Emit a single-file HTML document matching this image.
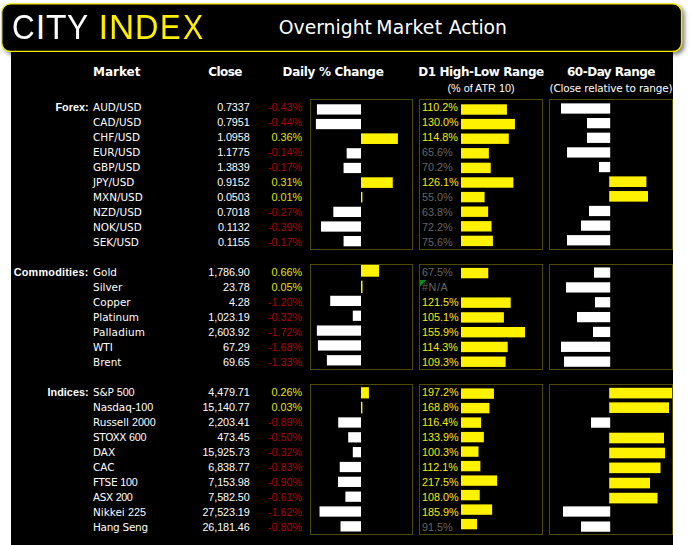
<!DOCTYPE html>
<html lang="en"><head><meta charset="utf-8"><title>Overnight Market Action</title>
<style>
html,body{margin:0;padding:0;}
body{width:691px;height:545px;background:#fff;position:relative;overflow:hidden;font-family:"Liberation Sans","DejaVu Sans",sans-serif;}
.panel{position:absolute;left:11px;top:40px;width:662px;height:505px;background:#000;}
.t{position:absolute;white-space:nowrap;line-height:15px;height:15px;font-size:10.8px;color:#fff;}
.nm{font-family:"DejaVu Sans","Liberation Sans",sans-serif;font-size:10.45px;}
.nm i{font-family:"Liberation Sans",sans-serif;font-size:10.8px;font-style:normal;}
.r{text-align:right;}
.c{text-align:center;}
.b{font-weight:bold;}
.h{font-family:"DejaVu Sans","Liberation Sans",sans-serif;font-size:12px;font-weight:bold;}
.neg{color:#b20000;}
.pos{color:#e6e000;}
.gy{color:#666;}
.yl{color:#f4ec00;}
.box{position:absolute;box-sizing:border-box;border:1px solid #4f4a00;}
rect.w{fill:#fff;}
rect.y{fill:#fff200;}
.logo{position:absolute;left:0;top:7.9px;height:38px;width:220px;font-size:34.3px;line-height:38px;color:#fff;white-space:nowrap;}
.logo span{display:inline-block;transform-origin:0 0;text-align:left;}
.logo .y{color:#ffee00;background:none;}
.title{position:absolute;left:278.75px;top:16px;width:300px;height:24px;font-family:"DejaVu Sans","Liberation Sans",sans-serif;font-size:18.8px;line-height:24px;color:#fff;white-space:nowrap;}

</style></head><body>
<div class="panel"></div>
<svg class="bsvg" width="691" height="70" viewBox="0 0 691 70" style="position:absolute;left:0;top:0">
<defs><filter id="sh" x="-5%" y="-30%" width="110%" height="170%"><feGaussianBlur stdDeviation="2.2"/></filter></defs>
<rect x="3.6" y="5.8" width="681.0" height="48.6" rx="9" fill="#000" fill-opacity="0.5" filter="url(#sh)"/>
<rect x="1.7" y="3.9" width="679.9" height="47.5" rx="8.6" fill="#000" stroke="#f5ec00" stroke-width="1.4"/>
</svg>
<div class="logo"><span style="margin-left:11.95px;width:23.88px;transform-origin:0 19.3px;transform:scale(0.9161,1.035)">C</span><span style="width:10.36px;transform:scaleX(1.0000)">I</span><span style="width:20.96px;transform:scaleX(0.9797)">T</span><span style="width:21.76px;transform:scaleX(0.9266)">Y</span> <span class=y style="width:10.45px;transform:scaleX(1.0000)">I</span><span class=y style="width:26.50px;transform:scaleX(1.0177)">N</span><span class=y style="width:24.93px;transform:scaleX(0.9451)">D</span><span class=y style="width:22.44px;transform:scaleX(0.8983)">E</span><span class=y style="width:30.00px;transform:scaleX(0.8838)">X</span></div>
<div class="title">Overnight <span style="margin-left:-1.68px;letter-spacing:0.25px">Market</span> <span style="margin-left:0.52px;letter-spacing:-0.15px">Action</span></div>

<div class="t h" style="left:93px;top:64.9px;width:60px;">Market</div>
<div class="t h c" style="left:195px;top:64.9px;width:60px;letter-spacing:-0.55px">Close</div>
<div class="t h c" style="left:273px;top:64.9px;width:120px;letter-spacing:-0.3px">Daily % Change</div>
<div class="t h c" style="left:411px;top:64.9px;width:140px;letter-spacing:-0.4px">D1 High-Low Range</div>
<div class="t h c" style="left:541px;top:64.9px;width:140px;letter-spacing:-0.5px">60-Day Range</div>
<div class="t c" style="left:411px;top:80.5px;width:140px;">(% of ATR 10)</div>
<div class="t c nm" style="left:541px;top:80.5px;width:140px;letter-spacing:-0.15px">(Close relative to range)</div>
<div class="t b r" style="left:0px;top:99.5px;width:88.7px;letter-spacing:0.05px">Forex:</div>
<div class="box" style="left:310px;top:99px;width:103px;height:151px"></div>
<div class="box" style="left:419px;top:99px;width:124.20000000000005px;height:151px"></div>
<div class="box" style="left:549px;top:99px;width:124px;height:151px"></div>
<div class="t nm" style="left:93px;top:99.5px;width:90px;">AUD/USD</div>
<div class="t r" style="left:170px;top:99.5px;width:79.6px;letter-spacing:-0.1px">0.7337</div>
<div class="t r neg" style="left:252px;top:99.5px;width:50.2px;">-0.43%</div>
<div class="t yl" style="left:422px;top:99.5px;width:60px;">110.2%</div>
<div class="t nm" style="left:93px;top:114.5px;width:90px;">CAD/USD</div>
<div class="t r" style="left:170px;top:114.5px;width:79.6px;letter-spacing:-0.1px">0.7951</div>
<div class="t r neg" style="left:252px;top:114.5px;width:50.2px;">-0.44%</div>
<div class="t yl" style="left:422px;top:114.5px;width:60px;">130.0%</div>
<div class="t nm" style="left:93px;top:129.5px;width:90px;">CHF/USD</div>
<div class="t r" style="left:170px;top:129.5px;width:79.6px;letter-spacing:-0.1px">1.0958</div>
<div class="t r pos" style="left:252px;top:129.5px;width:50.2px;">0.36%</div>
<div class="t yl" style="left:422px;top:129.5px;width:60px;">114.8%</div>
<div class="t nm" style="left:93px;top:144.5px;width:90px;">EUR/USD</div>
<div class="t r" style="left:170px;top:144.5px;width:79.6px;letter-spacing:-0.1px">1.1775</div>
<div class="t r neg" style="left:252px;top:144.5px;width:50.2px;">-0.14%</div>
<div class="t gy" style="left:422px;top:144.5px;width:60px;">65.6%</div>
<div class="t nm" style="left:93px;top:159.5px;width:90px;">GBP/USD</div>
<div class="t r" style="left:170px;top:159.5px;width:79.6px;letter-spacing:-0.1px">1.3839</div>
<div class="t r neg" style="left:252px;top:159.5px;width:50.2px;">-0.17%</div>
<div class="t gy" style="left:422px;top:159.5px;width:60px;">70.2%</div>
<div class="t nm" style="left:93px;top:174.5px;width:90px;">JPY/USD</div>
<div class="t r" style="left:170px;top:174.5px;width:79.6px;letter-spacing:-0.1px">0.9152</div>
<div class="t r pos" style="left:252px;top:174.5px;width:50.2px;">0.31%</div>
<div class="t yl" style="left:422px;top:174.5px;width:60px;">126.1%</div>
<div class="t nm" style="left:93px;top:189.5px;width:90px;">MXN/USD</div>
<div class="t r" style="left:170px;top:189.5px;width:79.6px;letter-spacing:-0.1px">0.0503</div>
<div class="t r pos" style="left:252px;top:189.5px;width:50.2px;">0.01%</div>
<div class="t gy" style="left:422px;top:189.5px;width:60px;">55.0%</div>
<div class="t nm" style="left:93px;top:204.5px;width:90px;">NZD/USD</div>
<div class="t r" style="left:170px;top:204.5px;width:79.6px;letter-spacing:-0.1px">0.7018</div>
<div class="t r neg" style="left:252px;top:204.5px;width:50.2px;">-0.27%</div>
<div class="t gy" style="left:422px;top:204.5px;width:60px;">63.8%</div>
<div class="t nm" style="left:93px;top:219.5px;width:90px;">NOK/USD</div>
<div class="t r" style="left:170px;top:219.5px;width:79.6px;letter-spacing:-0.1px">0.1132</div>
<div class="t r neg" style="left:252px;top:219.5px;width:50.2px;">-0.39%</div>
<div class="t gy" style="left:422px;top:219.5px;width:60px;">72.2%</div>
<div class="t nm" style="left:93px;top:234.5px;width:90px;">SEK/USD</div>
<div class="t r" style="left:170px;top:234.5px;width:79.6px;letter-spacing:-0.1px">0.1155</div>
<div class="t r neg" style="left:252px;top:234.5px;width:50.2px;">-0.17%</div>
<div class="t gy" style="left:422px;top:234.5px;width:60px;">75.6%</div>
<div class="t b r" style="left:0px;top:264.5px;width:88.7px;letter-spacing:0.25px">Commodities:</div>
<div class="box" style="left:310px;top:264px;width:103px;height:106px"></div>
<div class="box" style="left:419px;top:264px;width:124.20000000000005px;height:106px"></div>
<div class="box" style="left:549px;top:264px;width:124px;height:106px"></div>
<div class="t nm" style="left:93px;top:264.5px;width:90px;">Gold</div>
<div class="t r" style="left:170px;top:264.5px;width:79.6px;letter-spacing:-0.1px">1,786.90</div>
<div class="t r pos" style="left:252px;top:264.5px;width:50.2px;">0.66%</div>
<div class="t gy" style="left:422px;top:264.5px;width:60px;">67.5%</div>
<div class="t nm" style="left:93px;top:279.5px;width:90px;">Silver</div>
<div class="t r" style="left:170px;top:279.5px;width:79.6px;letter-spacing:-0.1px">23.78</div>
<div class="t r pos" style="left:252px;top:279.5px;width:50.2px;">0.05%</div>
<div class="t gy" style="left:422px;top:279.5px;width:60px;letter-spacing:0.55px">#N/A</div>
<svg style="position:absolute;left:419.5px;top:279.75px" width="7" height="7" viewBox="0 0 7 7"><path d="M0 0H6.5L0 6.5Z" fill="#0c8a1e"/></svg>
<div class="t nm" style="left:93px;top:294.5px;width:90px;">Copper</div>
<div class="t r" style="left:170px;top:294.5px;width:79.6px;letter-spacing:-0.1px">4.28</div>
<div class="t r neg" style="left:252px;top:294.5px;width:50.2px;">-1.20%</div>
<div class="t yl" style="left:422px;top:294.5px;width:60px;">121.5%</div>
<div class="t nm" style="left:93px;top:309.5px;width:90px;">Platinum</div>
<div class="t r" style="left:170px;top:309.5px;width:79.6px;letter-spacing:-0.1px">1,023.19</div>
<div class="t r neg" style="left:252px;top:309.5px;width:50.2px;">-0.32%</div>
<div class="t yl" style="left:422px;top:309.5px;width:60px;">105.1%</div>
<div class="t nm" style="left:93px;top:324.5px;width:90px;letter-spacing:0.15px">Palladium</div>
<div class="t r" style="left:170px;top:324.5px;width:79.6px;letter-spacing:-0.1px">2,603.92</div>
<div class="t r neg" style="left:252px;top:324.5px;width:50.2px;">-1.72%</div>
<div class="t yl" style="left:422px;top:324.5px;width:60px;">155.9%</div>
<div class="t nm" style="left:93px;top:339.5px;width:90px;">WTI</div>
<div class="t r" style="left:170px;top:339.5px;width:79.6px;letter-spacing:-0.1px">67.29</div>
<div class="t r neg" style="left:252px;top:339.5px;width:50.2px;">-1.68%</div>
<div class="t yl" style="left:422px;top:339.5px;width:60px;">114.3%</div>
<div class="t nm" style="left:93px;top:354.5px;width:90px;">Brent</div>
<div class="t r" style="left:170px;top:354.5px;width:79.6px;letter-spacing:-0.1px">69.65</div>
<div class="t r neg" style="left:252px;top:354.5px;width:50.2px;">-1.33%</div>
<div class="t yl" style="left:422px;top:354.5px;width:60px;">109.3%</div>
<div class="t b r" style="left:0px;top:384.5px;width:88.7px;letter-spacing:0.05px">Indices:</div>
<div class="box" style="left:310px;top:384px;width:103px;height:151px"></div>
<div class="box" style="left:419px;top:384px;width:124.20000000000005px;height:151px"></div>
<div class="box" style="left:549px;top:384px;width:124px;height:151px"></div>
<div class="t nm" style="left:93px;top:384.5px;width:90px;letter-spacing:-0.15px">S&amp;P <i>500</i></div>
<div class="t r" style="left:170px;top:384.5px;width:79.6px;letter-spacing:-0.1px">4,479.71</div>
<div class="t r pos" style="left:252px;top:384.5px;width:50.2px;">0.26%</div>
<div class="t yl" style="left:422px;top:384.5px;width:60px;">197.2%</div>
<div class="t nm" style="left:93px;top:399.5px;width:90px;letter-spacing:-0.1px">Nasdaq-<i>100</i></div>
<div class="t r" style="left:170px;top:399.5px;width:79.6px;letter-spacing:-0.1px">15,140.77</div>
<div class="t r pos" style="left:252px;top:399.5px;width:50.2px;">0.03%</div>
<div class="t yl" style="left:422px;top:399.5px;width:60px;">168.8%</div>
<div class="t nm" style="left:93px;top:414.5px;width:90px;letter-spacing:-0.1px">Russell <i>2000</i></div>
<div class="t r" style="left:170px;top:414.5px;width:79.6px;letter-spacing:-0.1px">2,203.41</div>
<div class="t r neg" style="left:252px;top:414.5px;width:50.2px;">-0.89%</div>
<div class="t yl" style="left:422px;top:414.5px;width:60px;">116.4%</div>
<div class="t nm" style="left:93px;top:429.5px;width:90px;letter-spacing:-0.35px">STOXX <i>600</i></div>
<div class="t r" style="left:170px;top:429.5px;width:79.6px;letter-spacing:-0.1px">473.45</div>
<div class="t r neg" style="left:252px;top:429.5px;width:50.2px;">-0.50%</div>
<div class="t yl" style="left:422px;top:429.5px;width:60px;">133.9%</div>
<div class="t nm" style="left:93px;top:444.5px;width:90px;">DAX</div>
<div class="t r" style="left:170px;top:444.5px;width:79.6px;letter-spacing:-0.1px">15,925.73</div>
<div class="t r neg" style="left:252px;top:444.5px;width:50.2px;">-0.32%</div>
<div class="t yl" style="left:422px;top:444.5px;width:60px;">100.3%</div>
<div class="t nm" style="left:93px;top:459.5px;width:90px;">CAC</div>
<div class="t r" style="left:170px;top:459.5px;width:79.6px;letter-spacing:-0.1px">6,838.77</div>
<div class="t r neg" style="left:252px;top:459.5px;width:50.2px;">-0.83%</div>
<div class="t yl" style="left:422px;top:459.5px;width:60px;">112.1%</div>
<div class="t nm" style="left:93px;top:474.5px;width:90px;letter-spacing:-0.3px">FTSE <i>100</i></div>
<div class="t r" style="left:170px;top:474.5px;width:79.6px;letter-spacing:-0.1px">7,153.98</div>
<div class="t r neg" style="left:252px;top:474.5px;width:50.2px;">-0.90%</div>
<div class="t yl" style="left:422px;top:474.5px;width:60px;">217.5%</div>
<div class="t nm" style="left:93px;top:489.5px;width:90px;letter-spacing:-0.4px">ASX <i>200</i></div>
<div class="t r" style="left:170px;top:489.5px;width:79.6px;letter-spacing:-0.1px">7,582.50</div>
<div class="t r neg" style="left:252px;top:489.5px;width:50.2px;">-0.61%</div>
<div class="t yl" style="left:422px;top:489.5px;width:60px;">108.0%</div>
<div class="t nm" style="left:93px;top:504.5px;width:90px;">Nikkei <i>225</i></div>
<div class="t r" style="left:170px;top:504.5px;width:79.6px;letter-spacing:-0.1px">27,523.19</div>
<div class="t r neg" style="left:252px;top:504.5px;width:50.2px;">-1.62%</div>
<div class="t yl" style="left:422px;top:504.5px;width:60px;">185.9%</div>
<div class="t nm" style="left:93px;top:519.5px;width:90px;letter-spacing:-0.25px">Hang Seng</div>
<div class="t r" style="left:170px;top:519.5px;width:79.6px;letter-spacing:-0.1px">26,181.46</div>
<div class="t r neg" style="left:252px;top:519.5px;width:50.2px;">-0.80%</div>
<div class="t gy" style="left:422px;top:519.5px;width:60px;">91.5%</div>
<svg width="691" height="545" viewBox="0 0 691 545" style="position:absolute;left:0;top:0"><rect class="y" x="461.00" y="104.30" width="45.93" height="10.40"/><rect class="w" x="316.93" y="104.28" width="44.07" height="10.25"/><rect class="w" x="561.00" y="103.38" width="49.20" height="10.25"/><rect class="y" x="461.00" y="118.90" width="53.95" height="10.40"/><rect class="w" x="315.90" y="118.92" width="45.10" height="10.25"/><rect class="w" x="587.00" y="118.02" width="23.20" height="10.25"/><rect class="y" x="461.00" y="133.50" width="47.79" height="10.40"/><rect class="y" x="361.00" y="133.38" width="36.90" height="10.60"/><rect class="w" x="587.00" y="132.66" width="23.20" height="10.25"/><rect class="y" x="461.00" y="148.10" width="27.87" height="10.40"/><rect class="w" x="346.65" y="148.19" width="14.35" height="10.25"/><rect class="w" x="567.00" y="147.30" width="43.20" height="10.25"/><rect class="y" x="461.00" y="162.70" width="29.73" height="10.40"/><rect class="w" x="343.57" y="162.84" width="17.43" height="10.25"/><rect class="w" x="599.00" y="161.94" width="11.20" height="10.25"/><rect class="y" x="461.00" y="177.30" width="52.37" height="10.40"/><rect class="y" x="361.00" y="177.30" width="31.77" height="10.60"/><rect class="y" x="609.20" y="176.40" width="37.20" height="10.60"/><rect class="y" x="461.00" y="191.90" width="23.57" height="10.40"/><rect class="y" x="361.00" y="191.94" width="1.40" height="10.60"/><rect class="y" x="609.20" y="191.04" width="38.80" height="10.60"/><rect class="y" x="461.00" y="206.50" width="27.14" height="10.40"/><rect class="w" x="333.32" y="206.75" width="27.68" height="10.25"/><rect class="w" x="589.00" y="205.86" width="21.20" height="10.25"/><rect class="y" x="461.00" y="221.10" width="30.54" height="10.40"/><rect class="w" x="321.02" y="221.40" width="39.98" height="10.25"/><rect class="w" x="581.00" y="220.50" width="29.20" height="10.25"/><rect class="y" x="461.00" y="235.70" width="31.92" height="10.40"/><rect class="w" x="343.57" y="236.03" width="17.43" height="10.25"/><rect class="w" x="567.00" y="235.13" width="43.20" height="10.25"/><rect class="y" x="461.00" y="267.90" width="27.26" height="10.40"/><rect class="y" x="361.00" y="264.90" width="18.05" height="11.80"/><rect class="w" x="594.00" y="267.43" width="16.20" height="10.25"/><rect class="y" x="361.00" y="280.70" width="1.50" height="12.20"/><rect class="w" x="566.00" y="282.28" width="44.20" height="10.25"/><rect class="y" x="461.00" y="297.44" width="49.71" height="10.40"/><rect class="w" x="330.22" y="295.77" width="30.78" height="10.25"/><rect class="w" x="595.00" y="297.12" width="15.20" height="10.25"/><rect class="y" x="461.00" y="312.21" width="42.89" height="10.40"/><rect class="w" x="352.79" y="310.62" width="8.21" height="10.25"/><rect class="w" x="577.00" y="311.98" width="33.20" height="10.25"/><rect class="y" x="461.00" y="326.98" width="64.01" height="10.40"/><rect class="w" x="316.88" y="325.47" width="44.12" height="10.25"/><rect class="w" x="593.00" y="326.82" width="17.20" height="10.25"/><rect class="y" x="461.00" y="341.75" width="46.71" height="10.40"/><rect class="w" x="317.91" y="340.32" width="43.09" height="10.25"/><rect class="w" x="561.00" y="341.68" width="49.20" height="10.25"/><rect class="y" x="461.00" y="356.52" width="44.64" height="10.40"/><rect class="w" x="326.89" y="355.17" width="34.11" height="10.25"/><rect class="w" x="564.00" y="356.52" width="46.20" height="10.25"/><rect class="y" x="461.00" y="388.40" width="32.95" height="10.40"/><rect class="y" x="361.00" y="387.20" width="7.90" height="11.20"/><rect class="y" x="609.20" y="387.80" width="62.80" height="10.60"/><rect class="y" x="461.00" y="402.90" width="28.42" height="10.40"/><rect class="y" x="361.00" y="401.84" width="1.40" height="11.60"/><rect class="y" x="609.20" y="402.35" width="59.80" height="10.60"/><rect class="y" x="461.00" y="417.40" width="20.07" height="10.40"/><rect class="w" x="338.22" y="417.36" width="22.78" height="10.25"/><rect class="w" x="591.00" y="417.48" width="19.20" height="10.25"/><rect class="y" x="461.00" y="431.90" width="22.86" height="10.40"/><rect class="w" x="348.20" y="432.19" width="12.80" height="10.25"/><rect class="y" x="609.20" y="432.70" width="54.80" height="10.60"/><rect class="y" x="461.00" y="446.40" width="17.50" height="10.40"/><rect class="w" x="352.81" y="447.04" width="8.19" height="10.25"/><rect class="y" x="609.20" y="447.70" width="55.80" height="10.60"/><rect class="y" x="461.00" y="460.90" width="19.38" height="10.40"/><rect class="w" x="339.75" y="461.88" width="21.25" height="10.25"/><rect class="y" x="609.20" y="462.55" width="51.30" height="10.60"/><rect class="y" x="461.00" y="475.40" width="36.19" height="10.40"/><rect class="w" x="337.96" y="476.72" width="23.04" height="10.25"/><rect class="y" x="609.20" y="477.75" width="40.80" height="10.60"/><rect class="y" x="461.00" y="489.90" width="18.73" height="10.40"/><rect class="w" x="345.38" y="491.56" width="15.62" height="10.25"/><rect class="y" x="609.20" y="492.80" width="48.30" height="10.60"/><rect class="y" x="461.00" y="504.40" width="31.15" height="10.40"/><rect class="w" x="319.53" y="506.39" width="41.47" height="10.25"/><rect class="w" x="563.00" y="506.38" width="47.20" height="10.25"/><rect class="y" x="461.00" y="518.90" width="16.09" height="10.40"/><rect class="w" x="340.52" y="521.24" width="20.48" height="10.25"/><rect class="w" x="581.00" y="521.48" width="29.20" height="10.25"/></svg>
</body></html>
